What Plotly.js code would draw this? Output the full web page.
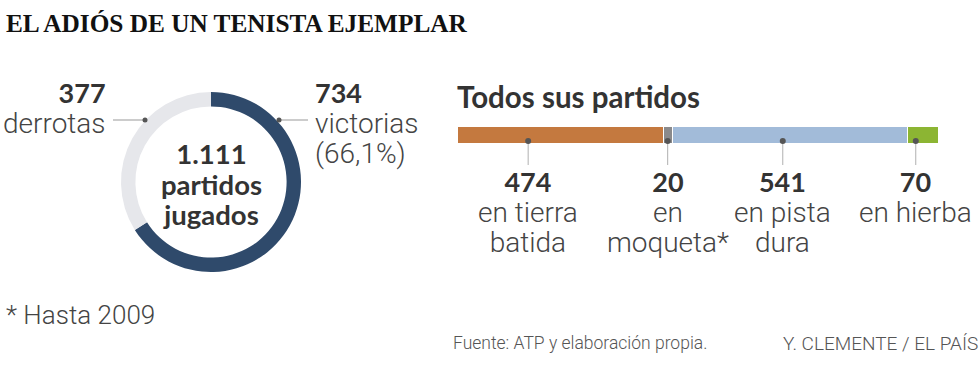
<!DOCTYPE html>
<html>
<head>
<meta charset="utf-8">
<script src="https://cdn.plot.ly/plotly-3.0.1.min.js"></script>
<style>html,body{margin:0;padding:0;background:#fff;}#chart{width:980px;height:374px;}</style>
</head>
<body>
<div id="chart"></div>
<script>
// ---- data ----
const resultLabels = ["victorias", "derrotas"];
const resultValues = [734, 377];
const totalMatches = "1.111";
const winPct = "66,1%";

const surfaceNames = ["en tierra<br>batida", "en<br>moqueta*", "en pista<br>dura", "en hierba"];
const surfaceValues = [474, 20, 541, 70];

// ---- styles ----
const surfaceColors = ["#c4793f", "#8a8a8c", "#a2bbd9", "#8cb533"];
const resultColors = ["#2f4a6b", "#e6e7eb"];
const BOLD = "Lato, 'Open Sans', sans-serif";
const LIGHT = "Roboto, 'Open Sans', sans-serif";
const W = 980, H = 374;
const py = p => 1 - p / H;
const px = p => p / W;

const total = surfaceValues.reduce((a, b) => a + b, 0);
const barX0 = 457, barX1 = 938;
const unitPerPx = total / (barX1 - barX0);
const labelShiftPx = [-32, 0, -7, -7];
let cum = 0;
const labelX = surfaceValues.map((v, i) => { const c = cum + v / 2 + labelShiftPx[i] * unitPerPx; cum += v; return c; });

const traces = [];
traces.push({
  type: "pie", values: resultValues, labels: resultLabels, sort: false, direction: "clockwise",
  hole: 0.84, marker: {colors: resultColors, line: {width: 0}}, textinfo: "none", hoverinfo: "label+value",
  showlegend: false, domain: {x: [px(121), px(301)], y: [py(272), py(92)]}
});
surfaceValues.forEach((v, i) => {
  traces.push({
    type: "bar", orientation: "h", x: [v], y: [14.5], width: [17], xaxis: "x", yaxis: "y",
    marker: {color: surfaceColors[i], line: {color: "#ffffff", width: 1}},
    showlegend: false, hoverinfo: "x"
  });
});
// leader lines for bar labels
const lx = [], ly = [];
labelX.forEach(x => { lx.push(x, x, null); ly.push(21, 45, null); });
traces.push({type: "scatter", mode: "lines", x: lx, y: ly, xaxis: "x", yaxis: "y",
  line: {color: "#b0b0b0", width: 1}, hoverinfo: "skip", showlegend: false});
traces.push({type: "scatter", mode: "markers", x: labelX, y: labelX.map(() => 21), xaxis: "x", yaxis: "y",
  marker: {color: "#555", size: 6}, hoverinfo: "skip", showlegend: false});

// rich text helpers: base font 23px -> 30px line spacing
const num = t => "<b><span style='font-family:Lato;font-size:27px;fill:#333'>" + t + "</span></b>";
const big = t => "<b><span style='font-family:Lato;font-size:27.5px;fill:#333'>" + t + "</span></b>";
const lite = t => "<span style='font-size:28px'>" + t + "</span>";
const liteLines = t => t.split("<br>").map(lite).join("<br>");
const BASE = {family: LIGHT, size: 23, color: "#444", weight: 300};

const ann = [];
function A(text, x, y, opts) {
  ann.push(Object.assign({text: text, x: x, y: y, xref: "paper", yref: "paper", showarrow: false,
    xanchor: "left", yanchor: "middle", font: BASE}, opts));
}
// title
A("<b>EL ADIÓS DE UN TENISTA EJEMPLAR</b>", px(4), py(23), {font: {family: "'Liberation Serif', 'DejaVu Serif', serif", size: 25.3, color: "#111"}});
// donut labels
A(num(resultValues[1]) + "<br>" + lite(resultLabels[1]), px(108), py(108), {xanchor: "right", align: "right"});
A(num(resultValues[0]) + "<br>" + lite(resultLabels[0]) + "<br>" + lite("(" + winPct + ")"), px(313), py(123), {align: "left"});
A([totalMatches, "partidos", "jugados"].map(big).join("<br>"), px(211), py(184), {xanchor: "center", align: "center", font: Object.assign({}, BASE, {size: 23.5})});
// bar section
A("<b>Todos sus partidos</b>", px(455), py(96), {font: {family: BOLD, size: 29.5, color: "#333"}});
surfaceValues.forEach((v, i) => {
  const lines = surfaceNames[i].split("<br>").length;
  ann.push({text: num(v) + "<br>" + liteLines(surfaceNames[i]), x: labelX[i], y: py(lines === 2 ? 212 : 197),
    xref: "x", yref: "paper", showarrow: false, xanchor: "center", yanchor: "middle", align: "center", font: BASE});
});
// notes
A("* Hasta 2009", px(4), py(315), {font: {family: LIGHT, size: 26, color: "#444", weight: 300}});
A("Fuente: ATP y elaboración propia.", px(451), py(343), {font: {family: LIGHT, size: 17.5, color: "#555", weight: 300}});
A("Y. CLEMENTE / EL PAÍS", px(980), py(343), {xanchor: "right", font: {family: LIGHT, size: 19, color: "#555", weight: 300}});

const shapes = [
  {type: "line", xref: "paper", yref: "paper", x0: px(113), x1: px(145), y0: py(120), y1: py(120), line: {color: "#999", width: 1}},
  {type: "circle", xref: "paper", yref: "paper", x0: px(142.5), x1: px(147.5), y0: py(122.5), y1: py(117.5), fillcolor: "#555", line: {width: 0}},
  {type: "line", xref: "paper", yref: "paper", x0: px(279), x1: px(308), y0: py(120), y1: py(120), line: {color: "#999", width: 1}},
  {type: "circle", xref: "paper", yref: "paper", x0: px(276.5), x1: px(281.5), y0: py(122.5), y1: py(117.5), fillcolor: "#555", line: {width: 0}}
];

const layout = {
  width: W, height: H, margin: {l: 0, r: 0, t: 0, b: 0}, paper_bgcolor: "#fff", plot_bgcolor: "rgba(0,0,0,0)",
  barmode: "stack", bargap: 0, showlegend: false,
  xaxis: {domain: [px(barX0), px(barX1)], range: [0, total], visible: false, fixedrange: true},
  yaxis: {domain: [py(170), py(120)], range: [50, 0], visible: false, fixedrange: true},
  annotations: ann, shapes: shapes
};
Plotly.newPlot("chart", traces, layout, {displayModeBar: false, staticPlot: true});
</script>
</body>
</html>
